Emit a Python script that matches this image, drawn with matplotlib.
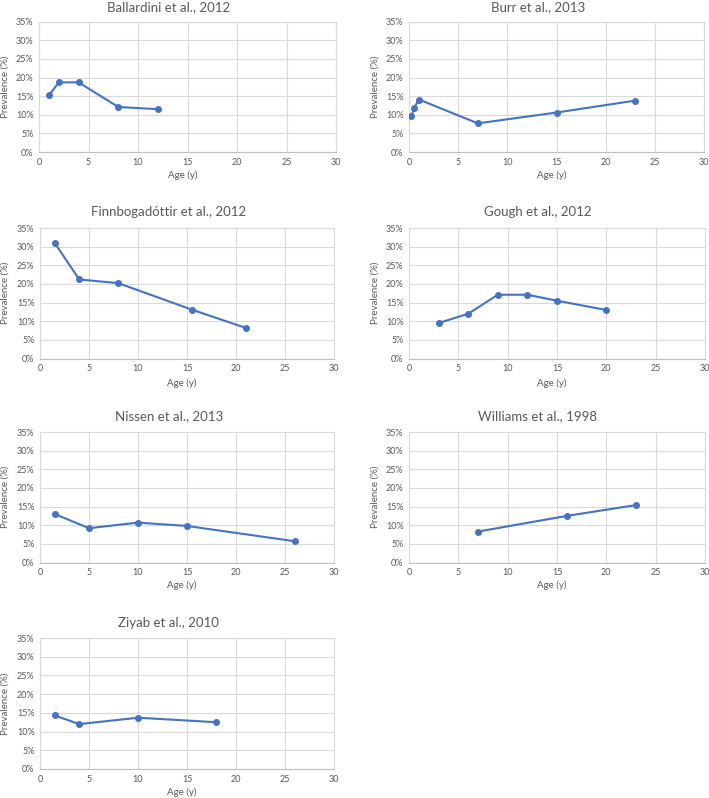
import matplotlib
matplotlib.use("Agg")
import matplotlib.pyplot as plt
from matplotlib.ticker import FuncFormatter, MultipleLocator

plt.rcParams['font.family'] = ['Lato', 'DejaVu Sans']

titles = ["Ballardini et al., 2012", "Burr et al., 2013", "Finnbogadóttir et al., 2012",
          "Gough et al., 2012", "Nissen et al., 2013", "Williams et al., 1998", "Ziyab et al., 2010"]

ballardini_age = [1, 2, 4, 8, 12]
ballardini_prev = [15.2, 18.7, 18.7, 12.1, 11.5]
burr_age = [0.25, 0.5, 1, 7, 15, 23]
burr_prev = [9.6, 11.7, 14.1, 7.7, 10.6, 13.8]
finn_age = [1.5, 4, 8, 15.5, 21]
finn_prev = [31.0, 21.2, 20.2, 13.1, 8.2]
gough_age = [3, 6, 9, 12, 15, 20]
gough_prev = [9.5, 12.0, 17.1, 17.1, 15.5, 13.0]
nissen_age = [1.5, 5, 10, 15, 26]
nissen_prev = [13.0, 9.2, 10.7, 9.8, 5.7]
williams_age = [7, 16, 23]
williams_prev = [8.3, 12.5, 15.4]
ziyab_age = [1.5, 4, 10, 18]
ziyab_prev = [14.3, 12.0, 13.7, 12.5]

series = [(ballardini_age, ballardini_prev), (burr_age, burr_prev), (finn_age, finn_prev),
          (gough_age, gough_prev), (nissen_age, nissen_prev), (williams_age, williams_prev),
          (ziyab_age, ziyab_prev)]

W, H = 709, 798
fig = plt.figure(figsize=(W / 100, H / 100), dpi=100)

# pixel boxes: (left, right, top, bottom)
boxes = [(39, 336, 21.7, 152), (409, 704, 21.7, 152),
         (40, 334, 228, 358.5), (409, 705, 228, 358.5),
         (40, 334, 432, 562.5), (409, 705, 432, 562.5),
         (40, 334, 638, 769)]
title_pos = [(169, 7), (538, 7), (169, 212), (538, 212), (169, 416), (538, 416), (168, 623)]
xlabel_y = [175, 175, 383, 383, 585, 585, 792]

line_color = "#4472C4"
text_color = "#595959"
grid_color = "#d9d9d9"

for i, ((xs, ys), (l, r, t, b)) in enumerate(zip(series, boxes)):
    ax = fig.add_axes([l / W, 1 - b / H, (r - l) / W, (b - t) / H])
    ax.plot(xs, ys, color=line_color, lw=1.5, marker='o', ms=4, zorder=3)
    ax.set_xlim(0, 30)
    ax.set_ylim(0, 35)
    ax.xaxis.set_major_locator(MultipleLocator(5))
    ax.yaxis.set_major_locator(MultipleLocator(5))
    ax.yaxis.set_major_formatter(FuncFormatter(lambda v, p: f"{int(round(v))}%"))
    ax.grid(True, color=grid_color, lw=0.8)
    ax.set_axisbelow(True)
    for s in ax.spines.values():
        s.set_color(grid_color)
        s.set_linewidth(0.8)
    ax.spines['bottom'].set_color("#bfbfbf")
    ax.tick_params(length=0, labelsize=6.5, colors=text_color, pad=4)
    fig.text(title_pos[i][0] / W, 1 - title_pos[i][1] / H, titles[i], ha='center', va='center',
             fontsize=9.5, color=text_color)
    ylx = 5 if l < 200 else 375
    fig.text(ylx / W, 1 - ((t + b) / 2) / H, "Prevalence (%)", rotation=90, ha='center',
             va='center', fontsize=7, color=text_color)
    fig.text(((l + r) / 2 - 5) / W, 1 - xlabel_y[i] / H, "Age (y)", ha='center', va='center',
             fontsize=7, color=text_color)

fig.savefig("out.png", dpi=100, facecolor="white")
